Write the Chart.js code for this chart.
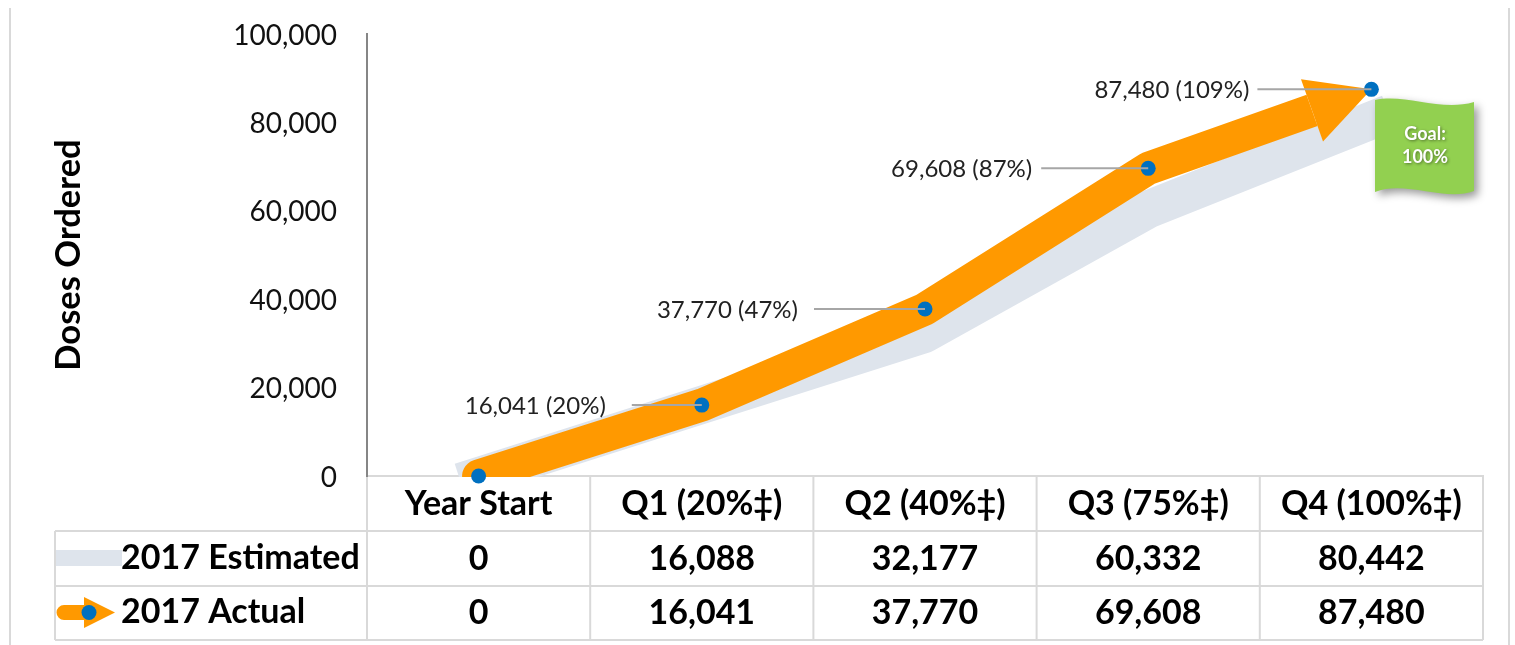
<!DOCTYPE html>
<html>
<head>
<meta charset="utf-8">
<title>Doses Ordered</title>
<script src="https://cdn.jsdelivr.net/npm/chart.js@4"></script>
<style>
  html, body { margin: 0; background: #fff; }
  canvas { display: block; }
</style>
</head>
<body>
<canvas id="myChart" width="1515" height="645"></canvas>
<script>
const categories = ["Year Start", "Q1 (20%‡)", "Q2 (40%‡)", "Q3 (75%‡)", "Q4 (100%‡)"];
const estimated = [0, 16088, 32177, 60332, 80442];
const actual = [0, 16041, 37770, 69608, 87480];
const actualPercent = [null, 20, 47, 87, 109];
const yTicks = [0, 20000, 40000, 60000, 80000, 100000];
const estimatedName = "2017 Estimated";
const actualName = "2017 Actual";
const yTitle = "Doses Ordered";
const goalLines = ["Goal:", "100%"];

// how far left of each point the grey leader line starts, and the gap to its label
const leaderLengths = [0, 70, 111, 107, 114];
const leaderGaps = [0, 26, 16, 9, 8];

const FONT = "Lato, Carlito, sans-serif";
const GRID = "#d9d9d9";
const ORANGE = "#ff9900";
const BAND = "#dee4ec";
const BLUE = "#0070c0";

const fmt = (n) => n.toLocaleString("en-US");

// geometry of the arrow head on the last segment of the actual line
function arrowGeometry(chart) {
  const pts = chart.getDatasetMeta(1).data;
  const a = pts[pts.length - 2];
  const b = pts[pts.length - 1];
  const len = Math.hypot(b.x - a.x, b.y - a.y);
  const d = { x: (b.x - a.x) / len, y: (b.y - a.y) / len };
  const n = { x: -d.y, y: d.x };
  const base = { x: b.x - d.x * 63, y: b.y - d.y * 63 };
  return { tip: b, d, n, base };
}

const extras = {
  id: "extras",
  beforeDraw(chart) {
    const ctx = chart.ctx;
    ctx.save();
    ctx.fillStyle = "#fff";
    ctx.fillRect(0, 0, chart.width, chart.height);
    // outer frame sides
    ctx.strokeStyle = GRID;
    ctx.lineWidth = 2;
    ctx.beginPath();
    ctx.moveTo(10, 8);
    ctx.lineTo(10, 645);
    ctx.moveTo(1509, 8);
    ctx.lineTo(1509, 645);
    ctx.stroke();
    drawTable(chart);
    ctx.restore();
  },
  // the actual line stops at the base of the arrow head
  beforeDatasetDraw(chart, args) {
    if (args.index !== 1) return;
    const g = arrowGeometry(chart);
    const ctx = chart.ctx;
    ctx.save();
    ctx.beginPath();
    ctx.moveTo(g.base.x + g.n.x * 3000, g.base.y + g.n.y * 3000);
    ctx.lineTo(g.base.x - g.n.x * 3000, g.base.y - g.n.y * 3000);
    ctx.lineTo(g.base.x - g.n.x * 3000 - g.d.x * 3000, g.base.y - g.n.y * 3000 - g.d.y * 3000);
    ctx.lineTo(g.base.x + g.n.x * 3000 - g.d.x * 3000, g.base.y + g.n.y * 3000 - g.d.y * 3000);
    ctx.closePath();
    ctx.clip();
  },
  afterDatasetDraw(chart, args) {
    if (args.index !== 1) return;
    const ctx = chart.ctx;
    ctx.restore();
    const g = arrowGeometry(chart);
    ctx.save();
    ctx.fillStyle = ORANGE;
    ctx.beginPath();
    ctx.moveTo(g.tip.x, g.tip.y);
    ctx.lineTo(g.base.x + g.n.x * 33, g.base.y + g.n.y * 33);
    ctx.lineTo(g.base.x - g.n.x * 33, g.base.y - g.n.y * 33);
    ctx.closePath();
    ctx.fill();
    ctx.restore();
  },
  afterDatasetsDraw(chart) {
    drawLeaders(chart);
    drawFlag(chart);
  },
};

function drawTable(chart) {
  const ctx = chart.ctx;
  const x = chart.scales.x;
  const rows = [531, 586, 640];
  const cell = (x.right - x.left) / categories.length;
  ctx.strokeStyle = GRID;
  ctx.lineWidth = 2;
  ctx.beginPath();
  rows.forEach((y) => {
    ctx.moveTo(55, y);
    ctx.lineTo(x.right, y);
  });
  ctx.moveTo(55, rows[0]);
  ctx.lineTo(55, rows[2]);
  for (let i = 0; i <= categories.length; i++) {
    ctx.moveTo(x.left + cell * i, x.top);
    ctx.lineTo(x.left + cell * i, rows[2]);
  }
  ctx.stroke();

  // legend keys
  ctx.fillStyle = BAND;
  ctx.fillRect(56, 550, 66, 16);
  ctx.fillStyle = ORANGE;
  ctx.beginPath();
  ctx.moveTo(84, 605);
  ctx.lineTo(64, 605);
  ctx.arc(64, 612.5, 7.5, -Math.PI / 2, Math.PI / 2, true);
  ctx.lineTo(84, 620);
  ctx.lineTo(84, 628);
  ctx.lineTo(115, 612.5);
  ctx.lineTo(84, 597);
  ctx.closePath();
  ctx.fill();
  ctx.fillStyle = BLUE;
  ctx.beginPath();
  ctx.arc(89, 612.5, 7.5, 0, Math.PI * 2);
  ctx.fill();

  ctx.fillStyle = "#000";
  ctx.font = "bold 34px " + FONT;
  ctx.textBaseline = "middle";
  ctx.textAlign = "left";
  ctx.fillText(estimatedName, 121, 558);
  ctx.fillText(actualName, 121, 612);
  ctx.textAlign = "center";
  categories.forEach((c, i) => {
    ctx.fillText(fmt(estimated[i]), x.getPixelForValue(i), 559);
    ctx.fillText(fmt(actual[i]), x.getPixelForValue(i), 613);
  });
}

function drawLeaders(chart) {
  const ctx = chart.ctx;
  const pts = chart.getDatasetMeta(0).data;
  ctx.save();
  ctx.font = "24px " + FONT;
  ctx.textAlign = "right";
  ctx.textBaseline = "middle";
  actual.forEach((v, i) => {
    if (actualPercent[i] === null) return;
    const p = pts[i];
    const startX = p.x - leaderLengths[i];
    ctx.strokeStyle = "#a6a6a6";
    ctx.lineWidth = 2;
    ctx.beginPath();
    ctx.moveTo(startX, p.y);
    ctx.lineTo(p.x, p.y);
    ctx.stroke();
    ctx.fillStyle = "#222";
    ctx.fillText(fmt(v) + " (" + actualPercent[i] + "%)", startX - leaderGaps[i], p.y + 1);
  });
  ctx.restore();
}

function drawFlag(chart) {
  const ctx = chart.ctx;
  ctx.save();
  ctx.shadowColor = "rgba(0,0,0,0.4)";
  ctx.shadowBlur = 8;
  ctx.shadowOffsetX = 4;
  ctx.shadowOffsetY = 4;
  ctx.fillStyle = "#92d050";
  ctx.beginPath();
  ctx.moveTo(1375, 100);
  ctx.bezierCurveTo(1405, 93, 1440, 112, 1474, 102);
  ctx.lineTo(1474, 191);
  ctx.bezierCurveTo(1445, 202, 1405, 180, 1375, 192);
  ctx.closePath();
  ctx.fill();
  ctx.shadowColor = "rgba(0,0,0,0.45)";
  ctx.shadowBlur = 3;
  ctx.shadowOffsetX = 1;
  ctx.shadowOffsetY = 1;
  ctx.fillStyle = "#fff";
  ctx.font = "bold 18px " + FONT;
  ctx.textAlign = "center";
  ctx.textBaseline = "middle";
  ctx.fillText(goalLines[0], 1425, 134);
  ctx.fillText(goalLines[1], 1425, 157);
  ctx.restore();
}

const bandClip = { left: 100, top: 100, right: 100, bottom: 1 };

const chart = new Chart(document.getElementById("myChart").getContext("2d"), {
  type: "line",
  data: {
    labels: categories,
    // chart.js paints the first dataset last, so the dots come first
    datasets: [
      {
        label: actualName + " points",
        data: actual,
        showLine: false,
        pointRadius: 7.5,
        pointHoverRadius: 7.5,
        pointBackgroundColor: BLUE,
        pointBorderWidth: 0,
        clip: false,
      },
      {
        label: actualName,
        data: actual,
        borderColor: ORANGE,
        borderWidth: 33,
        borderCapStyle: "round",
        borderJoinStyle: "bevel",
        tension: 0,
        pointRadius: 0,
        fill: false,
        clip: bandClip,
      },
      {
        label: estimatedName,
        data: estimated,
        borderColor: BAND,
        borderWidth: 38,
        borderCapStyle: "square",
        borderJoinStyle: "bevel",
        tension: 0,
        pointRadius: 0,
        fill: false,
        clip: bandClip,
      },
    ],
  },
  options: {
    responsive: false,
    animation: false,
    layout: { padding: { top: 34, right: 32, left: 0, bottom: 0 } },
    plugins: {
      legend: { display: false },
      title: { display: false },
      tooltip: { enabled: false },
    },
    scales: {
      x: {
        offset: true,
        grid: { display: false, drawTicks: false, offset: true },
        border: { display: true, color: GRID, width: 2 },
        ticks: {
          color: "#000",
          font: { family: FONT, size: 34, weight: "bold" },
          padding: 8,
          maxRotation: 0,
          autoSkip: false,
        },
        afterFit(scale) {
          scale.height = 169;
        },
      },
      y: {
        min: 0,
        max: 100000,
        grid: { display: false, drawTicks: false },
        border: { display: true, color: "#868686", width: 2 },
        afterBuildTicks(scale) {
          scale.ticks = yTicks.map((v) => ({ value: v }));
        },
        ticks: {
          color: "#111",
          font: { family: FONT, size: 28 },
          padding: 30,
          labelOffset: 1.5,
          callback: (v) => fmt(v),
        },
        title: {
          display: true,
          text: yTitle,
          color: "#000",
          font: { family: FONT, size: 34.5, weight: "bold" },
          padding: { top: 48, bottom: 0 },
        },
        afterFit(scale) {
          scale.width = 367;
          scale.paddingTop = 0;
          scale.paddingBottom = 0;
        },
      },
    },
  },
  plugins: [extras],
});
</script>
</body>
</html>
